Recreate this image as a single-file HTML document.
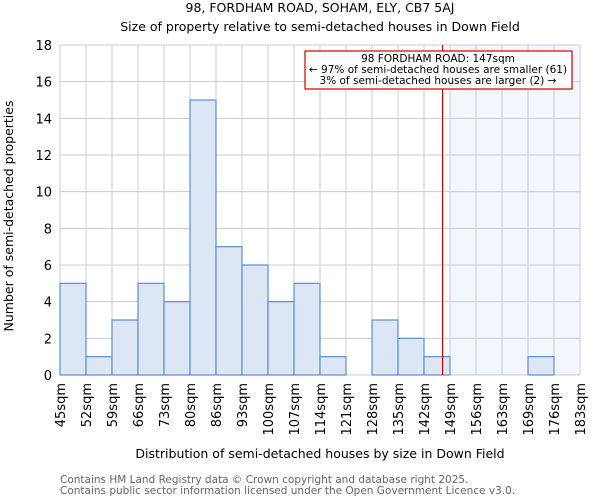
<!DOCTYPE html>
<html><head><meta charset="utf-8"><style>
body{margin:0;background:#fff;font-family:"DejaVu Sans","Liberation Sans",sans-serif;}
svg text{font-family:"DejaVu Sans","Liberation Sans",sans-serif;}
</style></head><body>
<svg id="chart" width="600" height="500" xmlns="http://www.w3.org/2000/svg">
<text x="320" y="12" text-anchor="middle" font-size="12.5">98, FORDHAM ROAD, SOHAM, ELY, CB7 5AJ</text>
<text x="320" y="31" text-anchor="middle" font-size="12.5">Size of property relative to semi-detached houses in Down Field</text>
<g id="plot"></g>
<text x="320" y="458" text-anchor="middle" font-size="12.5">Distribution of semi-detached houses by size in Down Field</text>
<text transform="translate(13,216) rotate(-90)" text-anchor="middle" font-size="12.5">Number of semi-detached properties</text>
<text x="60" y="483" font-size="10.5" fill="#666">Contains HM Land Registry data © Crown copyright and database right 2025.</text>
<text x="60" y="494" font-size="10.5" fill="#666">Contains public sector information licensed under the Open Government Licence v3.0.</text>
</svg>
<script>
const binLabels=["45sqm","52sqm","59sqm","66sqm","73sqm","80sqm","86sqm","93sqm","100sqm","107sqm","114sqm","121sqm","128sqm","135sqm","142sqm","149sqm","156sqm","163sqm","169sqm","176sqm","183sqm"];
const counts=[5,1,3,5,4,15,7,6,4,5,1,0,3,2,1,0,0,0,1,0];
const yTicks=[0,2,4,6,8,10,12,14,16,18];
const subjectBin=14, subjectFrac=5/7;
const L=60,R=580,T=45,B=375,yMax=18;
const ns="http://www.w3.org/2000/svg";
const g=document.getElementById('plot');
const bw=(R-L)/counts.length;
const xs=i=>L+i*bw, ys=v=>B-(v/yMax)*(B-T);
function mk(t,a){const e=document.createElementNS(ns,t);for(const k in a)e.setAttribute(k,a[k]);g.appendChild(e);return e;}
const sx=xs(subjectBin+1);
let e=mk('rect',{x:sx,y:T,width:R-sx,height:B-T,fill:'#f3f6fd'});


for(let i=0;i<=counts.length;i++){e=mk('line',{x1:xs(i),x2:xs(i),y1:T,y2:B,stroke:'#ccc','stroke-width':1});

}
yTicks.forEach(v=>{e=mk('line',{x1:L,x2:R,y1:ys(v),y2:ys(v),stroke:'#ccc','stroke-width':1});


e=mk('text',{x:L-8,y:ys(v)+5,'text-anchor':'end','font-size':13});e.textContent=v;

});
counts.forEach((c,i)=>{if(!c)return;e=mk('rect',{x:xs(i),y:ys(c),width:bw,height:B-ys(c),fill:'#dce6f4',stroke:'#5b8fd6','stroke-width':1.2});

});
binLabels.forEach((l,i)=>{e=mk('text',{transform:`translate(${xs(i)+5},${B+8}) rotate(-90)`,'text-anchor':'end','font-size':13});e.textContent=l;

});
const px=xs(subjectBin)+subjectFrac*bw;
e=mk('line',{x1:px,x2:px,y1:T,y2:B,stroke:'#cc0000','stroke-width':1.2});


e=mk('rect',{x:305,y:51,width:267,height:38,fill:'#fff',stroke:'#cc0000','stroke-width':1.2});


["98 FORDHAM ROAD: 147sqm","← 97% of semi-detached houses are smaller (61)","3% of semi-detached houses are larger (2) →"].forEach((t,i)=>{e=mk('text',{x:438,y:62+i*11,'text-anchor':'middle','font-size':10.5});e.textContent=t;

});
</script>
</body></html>
